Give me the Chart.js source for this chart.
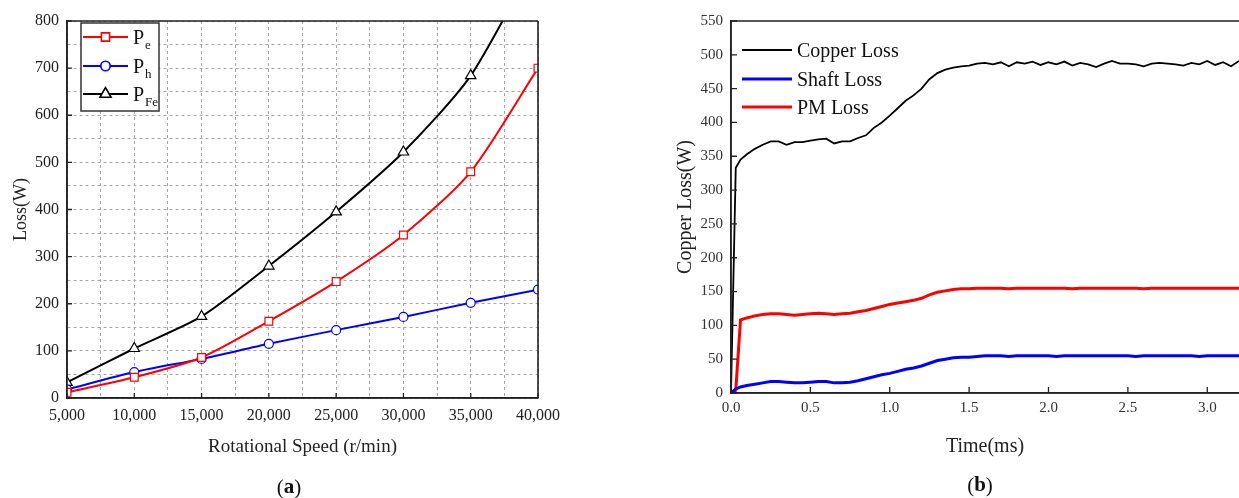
<!DOCTYPE html>
<html>
<head>
<meta charset="utf-8">
<script src="https://cdn.jsdelivr.net/npm/chart.js@4.4.0/dist/chart.umd.min.js"></script>
<style>
  html, body { margin: 0; padding: 0; background: #fff; overflow: hidden; }
  #wrap { position: relative; width: 1239px; height: 498px; }
  canvas { position: absolute; top: 0; }
  #speed-chart { left: 0; }
  #time-chart { left: 660px; }
</style>
</head>
<body>
<div id="wrap">
  <canvas id="speed-chart" width="560" height="498"></canvas>
  <canvas id="time-chart" width="579" height="498"></canvas>
</div>
<script>
const SERIF = '"Liberation Serif", "Times New Roman", serif';
const INK = "#222";

// ─── (a) core loss against rotational speed ──────────────────

const speeds = [5000, 10000, 15000, 20000, 25000, 30000, 35000, 40000];
const eddyLoss = [12, 44, 86, 163, 247, 346, 480, 700];
const hystLoss = [18, 55, 83, 115, 144, 172, 202, 230];
const ironLoss = [33, 105, 173, 280, 395, 522, 684, 940];
const speedSeriesNames = ["P", "P", "P"];
const speedSeriesSubs = ["e", "h", "Fe"];

// ─── (b) loss against time ───────────────────────────────────

const timeMs = [
  0, 0.03, 0.06, 0.1, 0.15, 0.2, 0.25, 0.3, 0.35, 0.4, 0.45,
  0.5, 0.55, 0.6, 0.65, 0.7, 0.75, 0.8, 0.85, 0.9, 0.95, 1.0,
  1.05, 1.1, 1.15, 1.2, 1.25, 1.3, 1.35, 1.4, 1.45, 1.5, 1.55,
  1.6, 1.65, 1.7, 1.75, 1.8, 1.85, 1.9, 1.95, 2.0, 2.05, 2.1,
  2.15, 2.2, 2.25, 2.3, 2.35, 2.4, 2.45, 2.5, 2.55, 2.6, 2.65,
  2.7, 2.75, 2.8, 2.85, 2.9, 2.95, 3.0, 3.05, 3.1, 3.15, 3.2,
];
const copperLoss = [
  0, 333, 345, 353, 361, 367, 372, 372, 367, 371, 371,
  373, 375, 376, 369, 372, 372, 377, 381, 392, 400, 410,
  421, 432, 440, 450, 464, 473, 478, 481, 483, 484, 487,
  488, 486, 489, 483, 489, 487, 490, 485, 489, 486, 490,
  484, 488, 486, 482, 487, 491, 487, 487, 486, 483, 487,
  488, 487, 486, 484, 488, 486, 491, 485, 489, 483, 491,
];
const shaftLoss = [
  0, 6, 9, 11, 13, 15, 17, 17, 16, 15, 15,
  16, 17, 17, 15, 15, 16, 18, 21, 24, 27, 29,
  32, 35, 37, 40, 44, 48, 50, 52, 53, 53, 54,
  55, 55, 55, 54, 55, 55, 55, 55, 55, 54, 55,
  55, 55, 55, 55, 55, 55, 55, 55, 54, 55, 55,
  55, 55, 55, 55, 55, 54, 55, 55, 55, 55, 55,
];
const pmLoss = [
  0, 4, 108, 111, 114, 116, 117, 117, 116, 115, 116,
  117, 118, 117, 116, 117, 118, 120, 122, 125, 128, 131,
  133, 135, 137, 140, 145, 149, 151, 153, 154, 154, 155,
  155, 155, 155, 154, 155, 155, 155, 155, 155, 155, 155,
  154, 155, 155, 155, 155, 155, 155, 155, 155, 154, 155,
  155, 155, 155, 155, 155, 155, 155, 155, 155, 155, 155,
];
const timeSeriesNames = ["Copper Loss", "Shaft Loss", "PM Loss"];

Chart.defaults.font.family = SERIF;
Chart.defaults.color = INK;
Chart.defaults.animation = false;

// fixed axis sizes, and no extra room for overhanging end labels
const fixHeight = (h) => (s) => { s.height = h; s.paddingLeft = 0; s.paddingRight = 0; };
const fixWidth = (w) => (s) => { s.width = w; s.paddingTop = 0; s.paddingBottom = 0; };

// ─── shared plugins ──────────────────────────────────────────

// inward tick marks plus the solid frame around the plot area
const framePlugin = {
  id: "frame",
  afterDraw(chart, args, opts) {
    const { ctx, chartArea: a, scales } = chart;
    const x = scales.x, y = scales.y;
    const isMajor = (v, step) => !step || Math.abs(v / step - Math.round(v / step)) < 1e-6;
    ctx.save();
    ctx.strokeStyle = INK;
    ctx.lineWidth = opts.tickWidth;
    ctx.beginPath();
    x.ticks.forEach((t) => {
      if (!isMajor(t.value, opts.xMajor)) return;
      const px = x.getPixelForValue(t.value);
      ctx.moveTo(px, a.bottom);
      ctx.lineTo(px, a.bottom - opts.tickLen);
    });
    y.ticks.forEach((t) => {
      if (!isMajor(t.value, opts.yMajor)) return;
      const py = y.getPixelForValue(t.value);
      ctx.moveTo(a.left, py);
      ctx.lineTo(a.left + opts.tickLen, py);
    });
    ctx.stroke();

    ctx.lineWidth = opts.frameWidth;
    ctx.beginPath();
    if (opts.sides.includes("top")) { ctx.moveTo(a.left, a.top); ctx.lineTo(a.right, a.top); }
    if (opts.sides.includes("right")) { ctx.moveTo(a.right, a.top); ctx.lineTo(a.right, a.bottom); }
    if (opts.sides.includes("bottom")) { ctx.moveTo(a.left, a.bottom); ctx.lineTo(a.right, a.bottom); }
    if (opts.sides.includes("left")) { ctx.moveTo(a.left, a.top); ctx.lineTo(a.left, a.bottom); }
    ctx.stroke();
    ctx.restore();
  },
};

// legend with line sample, marker and optional subscript
const lineLegendPlugin = {
  id: "lineLegend",
  afterDatasetsDraw(chart, args, opts) {
    const { ctx } = chart;
    ctx.save();
    if (opts.box) {
      const b = opts.box;
      ctx.fillStyle = "#fff";
      ctx.fillRect(b.left, b.top, b.right - b.left, b.bottom - b.top);
      ctx.strokeStyle = "#333";
      ctx.lineWidth = 1.5;
      ctx.strokeRect(b.left, b.top, b.right - b.left, b.bottom - b.top);
    }
    chart.data.datasets.forEach((ds, i) => {
      const yc = opts.rows[i];
      ctx.strokeStyle = ds.borderColor;
      ctx.lineWidth = ds.borderWidth;
      ctx.beginPath();
      ctx.moveTo(opts.lineFrom, yc);
      ctx.lineTo(opts.lineTo, yc);
      ctx.stroke();
      if (ds.pointRadius > 0) {
        Chart.helpers.drawPoint(ctx, {
          pointStyle: ds.pointStyle,
          radius: ds.pointRadius,
          borderWidth: ds.pointBorderWidth,
          rotation: 0,
        }, (opts.lineFrom + opts.lineTo) / 2, yc);
        ctx.fillStyle = "#fff";
        ctx.strokeStyle = ds.borderColor;
        ctx.lineWidth = ds.pointBorderWidth;
        ctx.fill();
        ctx.stroke();
      }
      ctx.fillStyle = "#111";
      ctx.textBaseline = "alphabetic";
      ctx.textAlign = "left";
      ctx.font = `${opts.fontSize}px ${SERIF}`;
      const base = yc + opts.fontSize * 0.33;
      ctx.fillText(ds.label, opts.textX, base);
      if (ds.sub) {
        const w = ctx.measureText(ds.label).width;
        ctx.font = `${opts.subSize}px ${SERIF}`;
        ctx.fillText(ds.sub, opts.textX + w + 1, base + opts.subDrop);
      }
    });
    ctx.restore();
  },
};

// "(a)" / "(b)" caption under each panel, letter in bold
const captionPlugin = {
  id: "caption",
  afterDraw(chart, args, opts) {
    const { ctx } = chart;
    const regular = `${opts.size}px ${SERIF}`;
    const bold = `bold ${opts.size}px ${SERIF}`;
    ctx.save();
    ctx.fillStyle = "#111";
    ctx.textBaseline = "middle";
    ctx.textAlign = "left";
    ctx.font = regular;
    const wp = ctx.measureText("(").width;
    const wc = ctx.measureText(")").width;
    ctx.font = bold;
    const wl = ctx.measureText(opts.letter).width;
    let x = opts.x - (wp + wl + wc) / 2;
    ctx.font = regular;
    ctx.fillText("(", x, opts.y);
    x += wp;
    ctx.font = bold;
    ctx.fillText(opts.letter, x, opts.y);
    x += wl;
    ctx.font = regular;
    ctx.fillText(")", x, opts.y);
    ctx.restore();
  },
};

// ─── (a) chart ───────────────────────────────────────────────

function markerSeries(label, sub, values, color, style, radius) {
  return {
    label,
    sub,
    data: speeds.map((s, i) => ({ x: s, y: values[i] })),
    borderColor: color,
    borderWidth: 2,
    pointStyle: style,
    pointRadius: radius,
    pointBorderWidth: 1.2,
    pointBackgroundColor: "#fff",
    pointBorderColor: color,
    tension: 0.25,
  };
}

new Chart(document.getElementById("speed-chart"), {
  type: "line",
  data: {
    datasets: [
      markerSeries(speedSeriesNames[0], speedSeriesSubs[0], eddyLoss, "#ff0000", "rect", 5.5),
      markerSeries(speedSeriesNames[1], speedSeriesSubs[1], hystLoss, "#0000ff", "circle", 4.5),
      markerSeries(speedSeriesNames[2], speedSeriesSubs[2], ironLoss, "#000000", "triangle", 6),
    ],
  },
  options: {
    responsive: false,
    devicePixelRatio: 1,
    layout: { padding: { top: 21, right: 22, bottom: 0, left: 0 } },
    plugins: {
      legend: { display: false },
      tooltip: { enabled: false },
      frame: { tickLen: 5, tickWidth: 1.3, frameWidth: 1.6, xMajor: 5000, yMajor: 100,
               sides: ["top", "right", "bottom", "left"] },
      lineLegend: {
        box: { left: 81, top: 23, right: 159, bottom: 111 },
        rows: [37, 66, 94],
        lineFrom: 83, lineTo: 128, textX: 133,
        fontSize: 20, subSize: 13, subDrop: 5,
      },
      caption: { letter: "a", x: 289, y: 488, size: 21 },
    },
    scales: {
      x: {
        type: "linear",
        min: 5000,
        max: 40000,
        afterFit: fixHeight(100),
        grid: { color: "#a6a6a6", lineWidth: 1, drawTicks: false },
        border: { color: INK, width: 1.5, dash: [3, 3] },
        ticks: {
          stepSize: 2500,
          autoSkip: false,
          maxRotation: 0,
          padding: 8,
          font: { size: 16 },
          color: INK,
          callback: (v) => (v % 5000 === 0 ? v.toLocaleString("en-US") : ""),
        },
        title: {
          display: true,
          text: "Rotational Speed (r/min)",
          font: { size: 19 },
          color: INK,
          padding: { top: 0, bottom: 40 },
        },
      },
      y: {
        min: 0,
        max: 800,
        afterFit: fixWidth(67),
        grid: { color: "#a6a6a6", lineWidth: 1, drawTicks: false },
        border: { color: INK, width: 1.5, dash: [3, 3] },
        ticks: {
          stepSize: 50,
          autoSkip: false,
          padding: 8,
          font: { size: 16 },
          color: INK,
          callback: (v) => (v % 100 === 0 ? String(v) : ""),
        },
        title: {
          display: true,
          text: "Loss(W)",
          font: { size: 18 },
          color: INK,
          padding: { top: 10, bottom: 0 },
        },
      },
    },
  },
  plugins: [framePlugin, lineLegendPlugin, captionPlugin],
});

// ─── (b) chart ───────────────────────────────────────────────

function timeSeries(label, values, color, width) {
  return {
    label,
    data: timeMs.map((t, i) => ({ x: t, y: values[i] })),
    borderColor: color,
    borderWidth: width,
    pointRadius: 0,
    tension: 0,
  };
}

new Chart(document.getElementById("time-chart"), {
  type: "line",
  data: {
    datasets: [
      timeSeries(timeSeriesNames[0], copperLoss, "#000000", 1.8),
      timeSeries(timeSeriesNames[1], shaftLoss, "#0000ff", 3),
      timeSeries(timeSeriesNames[2], pmLoss, "#ff0000", 3),
    ],
  },
  options: {
    responsive: false,
    devicePixelRatio: 1,
    layout: { padding: { top: 21, right: 0, bottom: 0, left: 0 } },
    plugins: {
      legend: { display: false },
      tooltip: { enabled: false },
      frame: { tickLen: 6, tickWidth: 1.3, frameWidth: 1.6, sides: ["top", "bottom", "left"] },
      lineLegend: {
        rows: [50, 79, 107],
        lineFrom: 82, lineTo: 132, textX: 137,
        fontSize: 20,
      },
      caption: { letter: "b", x: 320, y: 486, size: 21 },
    },
    scales: {
      x: {
        type: "linear",
        min: 0,
        max: 3.2,
        afterFit: fixHeight(105),
        grid: { display: false, drawTicks: false },
        border: { color: INK, width: 1.5 },
        ticks: {
          stepSize: 0.5,
          includeBounds: false,
          autoSkip: false,
          maxRotation: 0,
          padding: 6,
          font: { size: 15 },
          color: "#333",
          callback: (v) => v.toFixed(1),
        },
        title: {
          display: true,
          text: "Time(ms)",
          font: { size: 20 },
          color: INK,
          padding: { top: 0, bottom: 39 },
        },
      },
      y: {
        min: 0,
        max: 550,
        afterFit: fixWidth(71),
        grid: { display: false, drawTicks: false },
        border: { color: INK, width: 1.5 },
        ticks: {
          stepSize: 50,
          autoSkip: false,
          padding: 8,
          font: { size: 15 },
          color: "#333",
        },
        title: {
          display: true,
          text: "Copper Loss(W)",
          font: { size: 20 },
          color: INK,
          padding: { top: 14, bottom: 0 },
        },
      },
    },
  },
  plugins: [framePlugin, lineLegendPlugin, captionPlugin],
});
</script>
</body>
</html>
